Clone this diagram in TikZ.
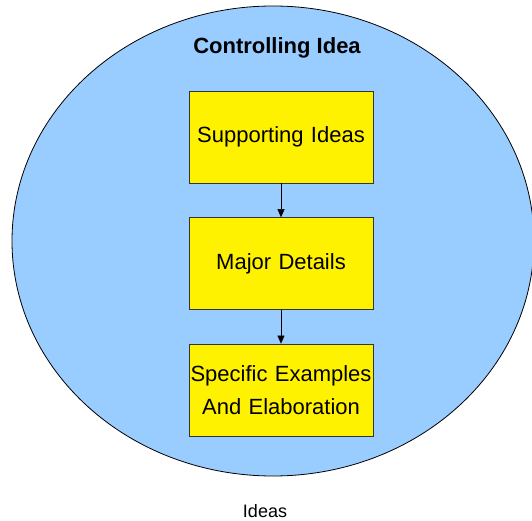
\documentclass[tikz,border=0pt]{standalone}
\usepackage{fontspec}
\setmainfont{Liberation Sans}
\usepackage{tikz}
\usetikzlibrary{arrows.meta,positioning}
\definecolor{ideablue}{HTML}{99CCFF}

\begin{document}
\begin{tikzpicture}[x=1pt,y=-1pt,
  levelbox/.style={draw=black!80,fill=yellow,text width=184pt,minimum height=92pt,
    align=center,font=\fontsize{22}{33}\selectfont,inner sep=0pt},
  flow/.style={-{Triangle[length=8pt,width=7pt]},black}]
\useasboundingbox (0,0) rectangle (532,521);
\fill[white] (0,0) rectangle (532,521);
\draw[fill=ideablue,line width=0.8pt] (273,241) ellipse [x radius=261, y radius=235];
\node[font=\bfseries\fontsize{22}{26}\selectfont] (title) at (277,48) {Controlling Idea};
\node[levelbox] (support) at (281,137) {Supporting Ideas};
\node[levelbox,below=34pt of support] (major) {Major Details};
\node[levelbox,below=34pt of major] (specific) {Specific Examples\\And Elaboration};
\draw[flow] (support) -- (major);
\draw[flow] (major) -- (specific);
\node[font=\fontsize{18}{22}\selectfont] (caption) at (265,511) {Ideas};
\end{tikzpicture}
\end{document}
